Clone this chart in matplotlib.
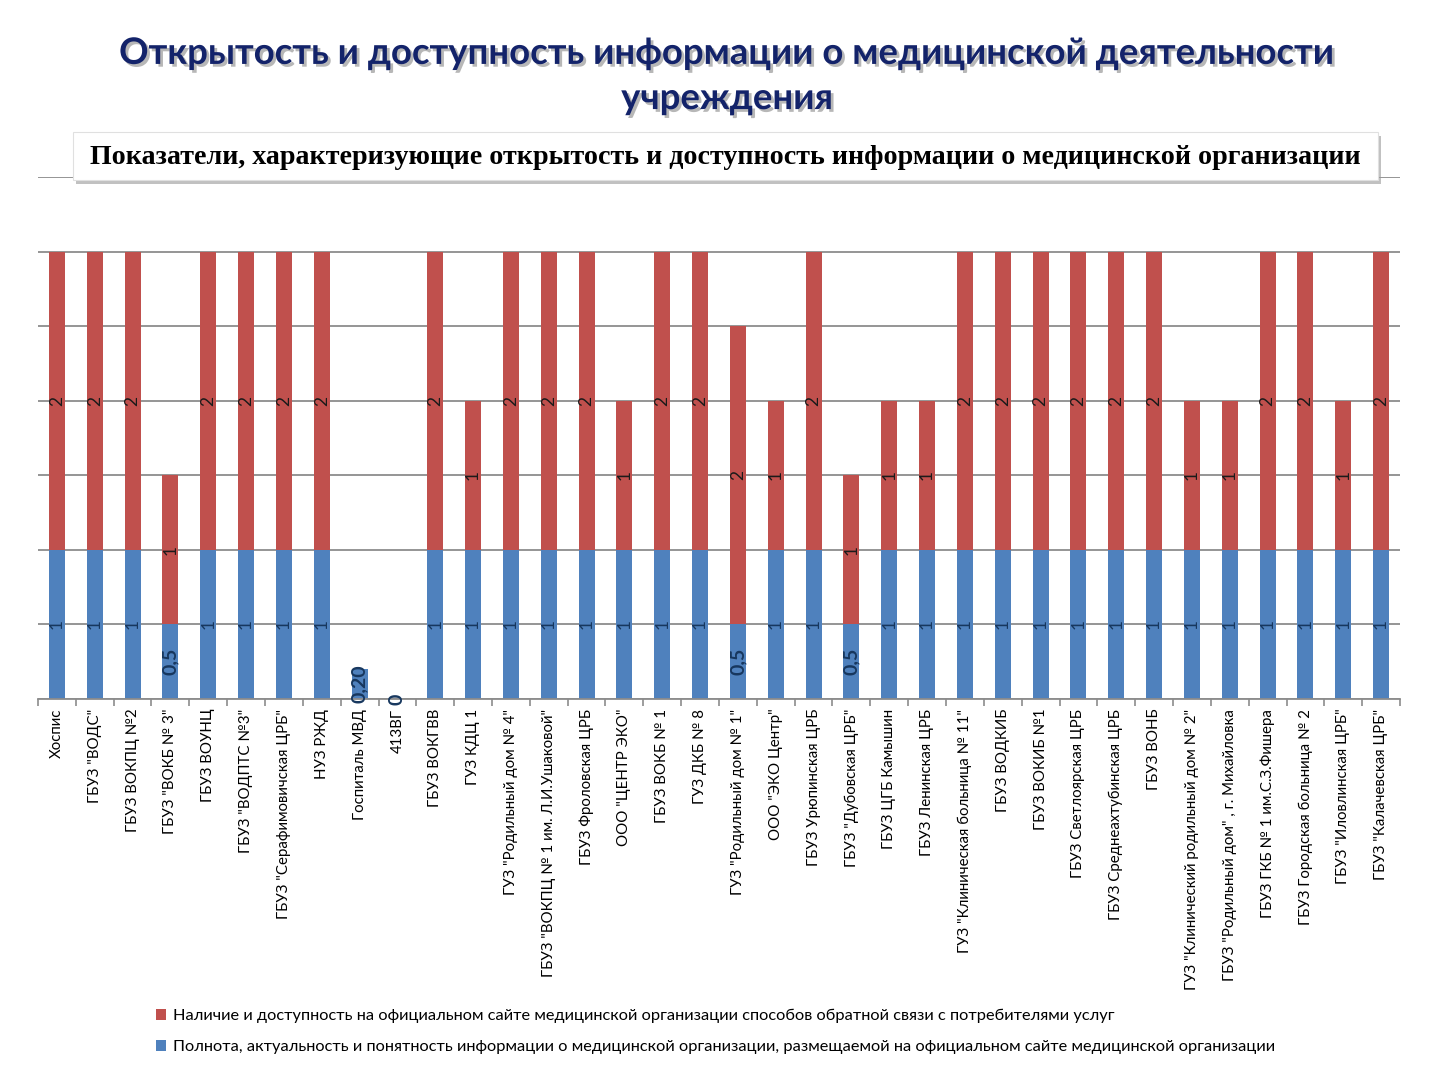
import matplotlib
matplotlib.use("Agg")
import matplotlib.pyplot as plt
import matplotlib.patheffects as pe
from matplotlib.patches import Rectangle, Patch
import numpy as np

categories = [
    'Хоспис', 'ГБУЗ "ВОДС"', 'ГБУЗ ВОКПЦ №2', 'ГБУЗ "ВОКБ № 3"', 'ГБУЗ ВОУНЦ',
    'ГБУЗ "ВОДПТС №3"', 'ГБУЗ "Серафимовичская ЦРБ"', 'НУЗ РЖД', 'Госпиталь МВД',
    '413ВГ', 'ГБУЗ ВОКГВВ', 'ГУЗ КДЦ 1', 'ГУЗ "Родильный дом № 4"',
    'ГБУЗ "ВОКПЦ № 1 им. Л.И.Ушаковой"', 'ГБУЗ Фроловская ЦРБ', 'ООО "ЦЕНТР ЭКО"',
    'ГБУЗ ВОКБ № 1', 'ГУЗ ДКБ № 8', 'ГУЗ "Родильный дом № 1"', 'ООО "ЭКО Центр"',
    'ГБУЗ Урюпинская ЦРБ', 'ГБУЗ "Дубовская ЦРБ"', 'ГБУЗ ЦГБ Камышин',
    'ГБУЗ Ленинская ЦРБ', 'ГУЗ "Клиническая больница № 11"', 'ГБУЗ ВОДКИБ',
    'ГБУЗ ВОКИБ №1', 'ГБУЗ Светлоярская ЦРБ', 'ГБУЗ Среднеахтубинская ЦРБ',
    'ГБУЗ ВОНБ', 'ГУЗ "Клинический родильный дом № 2"',
    'ГБУЗ "Родильный дом" , г. Михайловка', 'ГБУЗ ГКБ № 1 им.С.З.Фишера',
    'ГБУЗ Городская больница № 2', 'ГБУЗ "Иловлинская ЦРБ"', 'ГБУЗ "Калачевская ЦРБ"',
]

blue_vals = [1, 1, 1, 0.5, 1, 1, 1, 1, 0.2, 0, 1, 1, 1, 1, 1, 1, 1, 1, 0.5, 1,
             1, 0.5, 1, 1, 1, 1, 1, 1, 1, 1, 1, 1, 1, 1, 1, 1]
red_vals = [2, 2, 2, 1, 2, 2, 2, 2, 0, 0, 2, 1, 2, 2, 2, 1, 2, 2, 2, 1,
            2, 1, 1, 1, 2, 2, 2, 2, 2, 2, 1, 1, 2, 2, 1, 2]

blue_name = ('Полнота, актуальность и понятность информации о медицинской организации, '
             'размещаемой на официальном сайте медицинской организации')
red_name = ('Наличие и доступность на официальном сайте медицинской организации '
            'способов обратной связи с потребителями услуг')

title = 'Открытость и доступность информации о медицинской деятельности\nучреждения'
subtitle = 'Показатели, характеризующие открытость и доступность информации о медицинской организации'

BLUE = '#4F81BD'
RED = '#C0504D'

fig = plt.figure(figsize=(14.4, 10.8), dpi=100)
fig.patch.set_facecolor('white')

ax = fig.add_axes([38/1440, 1-699/1080, (1400-38)/1440, (699-177)/1080])
x = np.arange(len(categories))
w = 0.42
ax.bar(x, blue_vals, width=w, color=BLUE, zorder=2)
ax.bar(x, red_vals, width=w, bottom=blue_vals, color=RED, zorder=2)

ax.set_xlim(-0.5, len(categories) - 0.5)
ax.set_ylim(0, 3.5)
ax.set_yticks(np.arange(0, 3.51, 0.5))
ax.yaxis.grid(True, color='#8c8c8c', linewidth=1.3, zorder=0)
ax.tick_params(axis='y', left=False, labelleft=False)
for s in ['left', 'right', 'top']:
    ax.spines[s].set_visible(False)
ax.spines['bottom'].set_color('#8c8c8c')
ax.spines['bottom'].set_linewidth(1.3)

ax.set_xticks(x)
ax.set_xticklabels(categories, rotation=90, fontsize=10.8, family='Lato', va='top')
ax.tick_params(axis='x', length=0, pad=7)
ax.set_xticks(np.arange(-0.5, len(categories), 1), minor=True)
ax.tick_params(axis='x', which='minor', length=5, color='#8c8c8c', width=1.2)

def fmt(v):
    if v == int(v):
        return str(int(v))
    if abs(v - 0.2) < 1e-9:
        return '0,20'
    return str(v).replace('.', ',')

for i, (b, r) in enumerate(zip(blue_vals, red_vals)):
    if b == 1:
        ax.text(i, b / 2, fmt(b), rotation=90, ha='center', va='center',
                fontsize=12.5, color='#17375E', family='Lato', zorder=3)
    else:
        ax.text(i, b / 2, fmt(b), rotation=90, ha='center', va='center',
                fontsize=14, color='#17375E', family='Lato', fontweight='bold', zorder=3)
    if r > 0:
        ax.text(i, b + r / 2, fmt(r), rotation=90, ha='center', va='center',
                fontsize=12.5, color='#1a1a1a', family='Lato', zorder=3)

# Title
fig.text(727/1440, 1-76/1080, title, ha='center', va='center', fontsize=26.3,
         fontweight='bold', family='Lato', color='#13236A', linespacing=1.45,
         path_effects=[pe.SimplePatchShadow(offset=(2, -2), shadow_rgbFace='#888888', alpha=0.6),
                       pe.Normal()])

# Subtitle box
box = Rectangle((73/1440, 1-180/1080), (1378-73)/1440, 48/1080, transform=fig.transFigure,
                facecolor='white', edgecolor='#e0e0e0', linewidth=0.8, zorder=5,
                path_effects=[pe.SimplePatchShadow(offset=(2, -3), shadow_rgbFace='#999999', alpha=0.6),
                              pe.Normal()])
fig.patches.append(box)
fig.text(725/1440, 1-157/1080, subtitle, ha='center', va='center', fontsize=20.2,
         fontweight='bold', family='Liberation Serif', color='black', zorder=6)

handles = [Patch(facecolor=RED, edgecolor='none'), Patch(facecolor=BLUE, edgecolor='none')]
fig.legend(handles, [red_name, blue_name], loc='upper left',
           bbox_to_anchor=(141/1440, 1-994/1080), frameon=False,
           prop={'family': 'Lato', 'size': 11.8}, handlelength=0.65, handleheight=0.65,
           handletextpad=0.4, labelspacing=1.05)

fig.savefig('out.png', dpi=100, facecolor='white')
